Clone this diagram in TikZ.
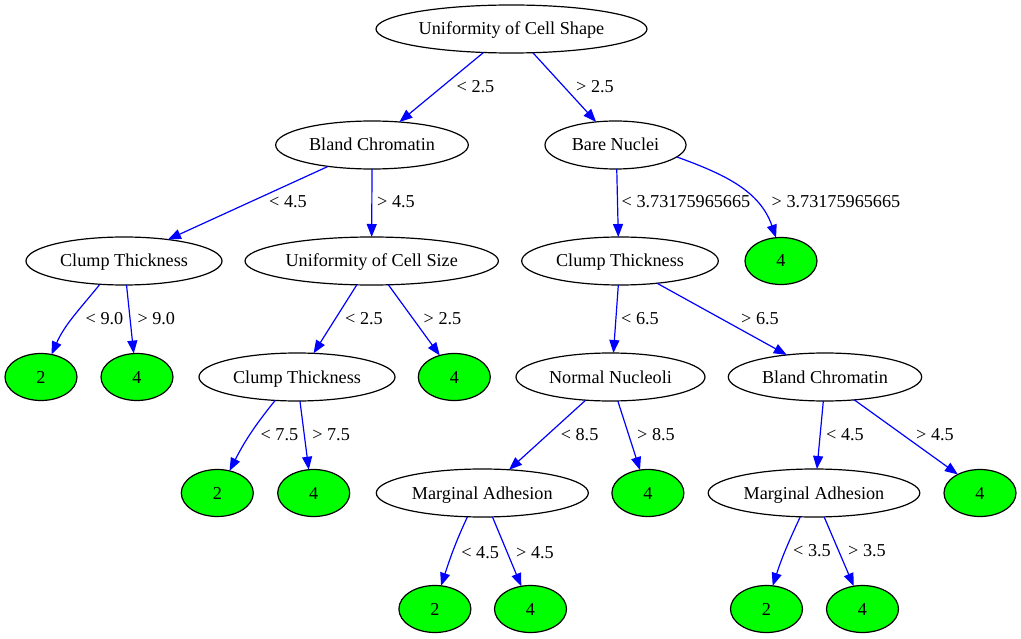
\documentclass[tikz,border=0pt]{standalone}
\usepackage{fontspec}
\setmainfont{Liberation Serif}
\usetikzlibrary{shapes.geometric,arrows.meta}
\definecolor{edgeblue}{RGB}{0,0,255}
\definecolor{leafgreen}{RGB}{0,255,0}
\begin{document}
\begin{tikzpicture}[x=1pt,y=1pt,
  every node/.style={font=\fontsize{18.2}{22}\selectfont, text height=13.5pt, text depth=1.5pt, inner sep=0pt, outer sep=0pt},
  inner/.style={ellipse, draw=black, line width=1.2pt, fill=white, minimum height=48pt},
  leaf/.style={ellipse, draw=black, line width=1.2pt, fill=leafgreen, minimum width=72pt, minimum height=47pt},
  lbl/.style={},
  conn/.style={draw=edgeblue, line width=1.2pt, -{Triangle[length=13pt,width=10pt]}, edgeblue}
]
\useasboundingbox (0,0) rectangle (1021,-639);
% internal nodes
\node[inner, minimum width=271pt] (root) at (511.5,-29) {Uniformity of Cell Shape};
\node[inner, minimum width=192.6pt] (bc1) at (372,-145) {Bland Chromatin};
\node[inner, minimum width=141pt] (bn) at (615.5,-145) {Bare Nuclei};
\node[inner, minimum width=196pt] (ct1) at (124,-261) {Clump Thickness};
\node[inner, minimum width=253.4pt] (ucs) at (371.7,-261) {Uniformity of Cell Size};
\node[inner, minimum width=196.6pt] (ct3) at (620,-261) {Clump Thickness};
\node[inner, minimum width=196pt] (ct2) at (297,-377) {Clump Thickness};
\node[inner, minimum width=189pt] (nn) at (610.5,-377) {Normal Nucleoli};
\node[inner, minimum width=193.4pt] (bc2) at (825,-377) {Bland Chromatin};
\node[inner, minimum width=212pt] (ma1) at (482.3,-493) {Marginal Adhesion};
\node[inner, minimum width=211.6pt] (ma2) at (814,-493) {Marginal Adhesion};
% leaves
\node[leaf] (lbn4) at (781,-261) {4};
\node[leaf] (lct1a) at (41,-377) {2};
\node[leaf] (lct1b) at (137,-377) {4};
\node[leaf] (lucs4) at (454.3,-377) {4};
\node[leaf] (lct2a) at (217.3,-493) {2};
\node[leaf] (lct2b) at (313.7,-493) {4};
\node[leaf] (lnn4) at (647.9,-493) {4};
\node[leaf] (lbc24) at (980,-493) {4};
\node[leaf] (lma1a) at (434.9,-609) {2};
\node[leaf] (lma1b) at (530.5,-609) {4};
\node[leaf] (lma2a) at (766.5,-609) {2};
\node[leaf] (lma2b) at (862.5,-609) {4};
% edges
\draw[conn] (root.220) -- (bc1.40);
\draw[conn] (root.312.7) -- (bn.130.3);
\draw[conn] (bc1.206.6) -- (ct1.26.6);
\draw[conn] (bc1.-90) -- (ucs.90);
\draw[conn] (ucs.238.7) -- (ct2.55.5);
\draw[conn] (ucs.305) -- (lucs4.124);
\draw[conn] (ct1.224) to[out=231,in=66] (lct1a.65);
\draw[conn] (ct1.276.4) -- (lct1b.98.9);
\draw[conn] (bn.273) -- (ct3.94);
\draw[conn] (bn.349.4) to[out=-20,in=109] (lbn4.102);
\draw[conn] (ct3.266) -- (nn.83.4);
\draw[conn] (ct3.329.8) -- (bc2.150.1);
\draw[conn] (ct2.227.2) to[out=231,in=63] (lct2a.61.6);
\draw[conn] (ct2.277.6) -- (lct2b.102.7);
\draw[conn] (nn.223.8) -- (ma1.41.3);
\draw[conn] (nn.287) -- (lnn4.109.4);
\draw[conn] (ma1.238.3) to[out=245,in=72] (lma1a.75.3);
\draw[conn] (ma1.293.8) -- (lma1b.112.6);
\draw[conn] (bc2.266) -- (ma2.83.5);
\draw[conn] (bc2.322.5) -- (lbc24.140.8);
\draw[conn] (ma2.240) to[out=245,in=72] (lma2a.75.5);
\draw[conn] (ma2.293) -- (lma2b.111);
% edge labels
\node[lbl] (e1) at (475.5,-87) {< 2.5};
\node[lbl] (e2) at (595,-87) {> 2.5};
\node[lbl] (e3) at (288,-202) {< 4.5};
\node[lbl] (e4) at (396,-202) {> 4.5};
\node[lbl] (e5) at (686,-202) {< 3.73175965665};
\node[lbl] (e6) at (836,-202) {> 3.73175965665};
\node[lbl] (e7) at (104.5,-318) {< 9.0};
\node[lbl] (e8) at (156.3,-318) {> 9.0};
\node[lbl] (e9) at (364,-319) {< 2.5};
\node[lbl] (e10) at (442.5,-319) {> 2.5};
\node[lbl] (e11) at (640,-318) {< 6.5};
\node[lbl] (e12) at (760,-318) {> 6.5};
\node[lbl] (e13) at (279.4,-434.8) {< 7.5};
\node[lbl] (e14) at (331.1,-434.8) {> 7.5};
\node[lbl] (e15) at (579.6,-434.8) {< 8.5};
\node[lbl] (e16) at (656,-434.8) {> 8.5};
\node[lbl] (e17) at (845,-434) {< 4.5};
\node[lbl] (e18) at (935,-434) {> 4.5};
\node[lbl] (e19) at (480.2,-552) {< 4.5};
\node[lbl] (e20) at (535,-552) {> 4.5};
\node[lbl] (e21) at (812,-550.7) {< 3.5};
\node[lbl] (e22) at (867,-550.7) {> 3.5};
\end{tikzpicture}
\end{document}
